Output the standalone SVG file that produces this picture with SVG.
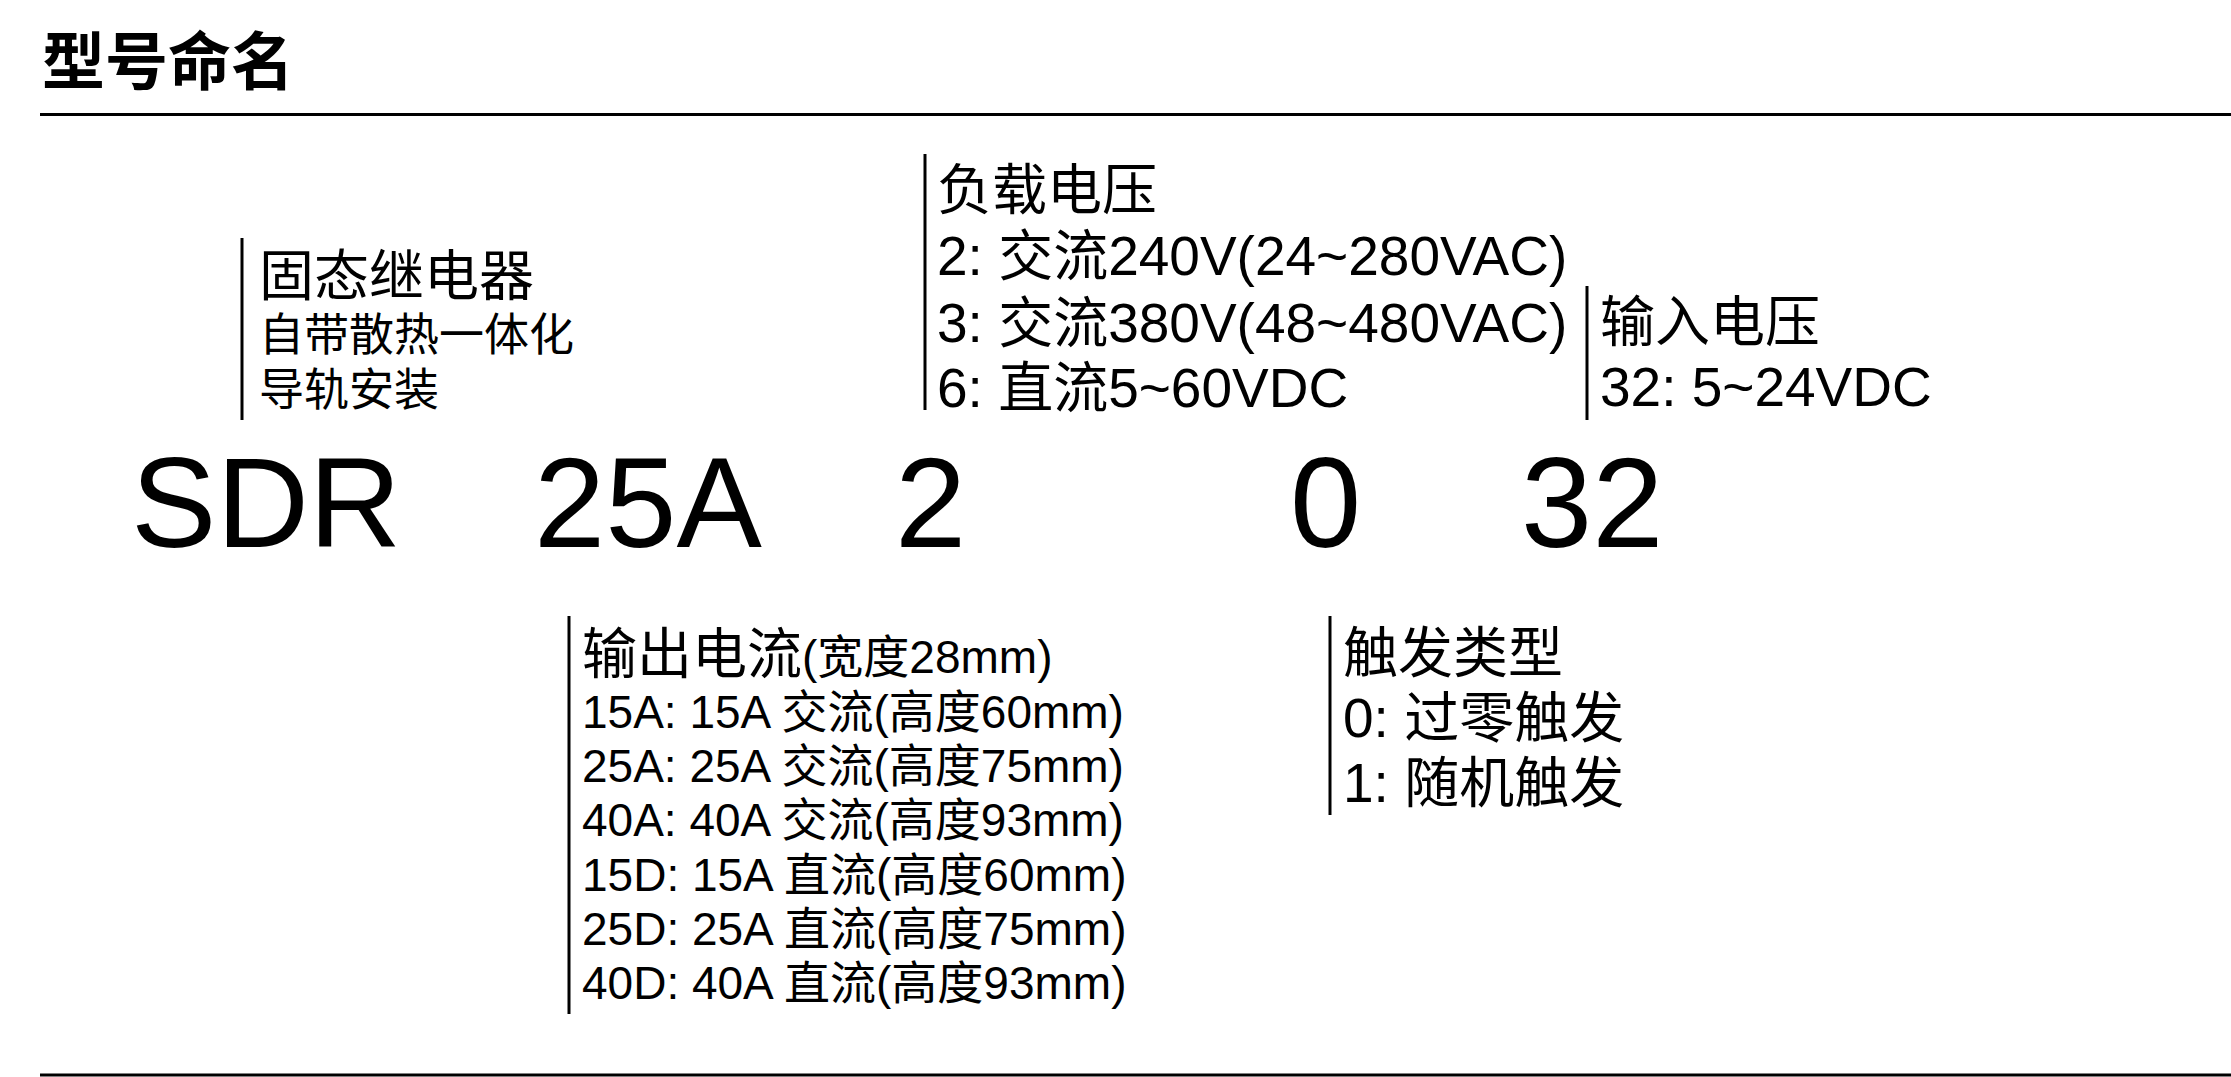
<svg xmlns="http://www.w3.org/2000/svg" width="2231" height="1077" viewBox="0 0 2231 1077">
<style>
  text { font-family: "Liberation Sans", "Noto Sans CJK SC", sans-serif; fill: #000; }
  .title { font-family: "Noto Sans CJK SC", sans-serif; font-size: 63px; font-weight: 700; }
  .h { font-size: 55px; }
  .s { font-size: 46px; }
  .s45 { font-size: 45px; }
  .big { font-size: 128px; }
  .rule { stroke: #000; stroke-width: 3; }
  .bar { stroke: #000; stroke-width: 3; }
</style>
<rect x="0" y="0" width="2231" height="1077" fill="#fff"/>
<g id="header">
  <text class="title" x="42" y="84">型号命名</text>
  <line class="rule" x1="40" y1="114.5" x2="2231" y2="114.5"/>
</g>
<g id="code">
  <text class="big" x="131" y="547">SDR</text>
  <text class="big" x="534" y="547">25A</text>
  <text class="big" x="895" y="547">2</text>
  <text class="big" x="1290" y="547">0</text>
  <text class="big" x="1521" y="547">32</text>
</g>
<g id="node-type">
  <line class="bar" x1="242" y1="238" x2="242" y2="420"/>
  <text class="h" x="259" y="295">固态继电器</text>
  <text class="s45" x="259" y="351">自带散热一体化</text>
  <text class="s45" x="259" y="406">导轨安装</text>
</g>
<g id="node-load-voltage">
  <line class="bar" x1="925" y1="154" x2="925" y2="410"/>
  <text class="h" x="937" y="209">负载电压</text>
  <text class="h" x="937" y="275">2: 交流240V(24~280VAC)</text>
  <text class="h" x="937" y="342">3: 交流380V(48~480VAC)</text>
  <text class="h" x="937" y="407">6: 直流5~60VDC</text>
</g>
<g id="node-input-voltage">
  <line class="bar" x1="1587" y1="286" x2="1587" y2="420"/>
  <text class="h" x="1600" y="341">输入电压</text>
  <text class="h" x="1600" y="406">32: 5~24VDC</text>
</g>
<g id="node-output-current">
  <line class="bar" x1="569" y1="616" x2="569" y2="1014"/>
  <text x="582" y="673"><tspan class="h">输出电流</tspan><tspan class="s">(宽度28mm)</tspan></text>
  <text class="s" x="582" y="728">15A: 15A 交流(高度60mm)</text>
  <text class="s" x="582" y="782">25A: 25A 交流(高度75mm)</text>
  <text class="s" x="582" y="836">40A: 40A 交流(高度93mm)</text>
  <text class="s" x="582" y="891">15D: 15A 直流(高度60mm)</text>
  <text class="s" x="582" y="945">25D: 25A 直流(高度75mm)</text>
  <text class="s" x="582" y="999">40D: 40A 直流(高度93mm)</text>
</g>
<g id="node-trigger">
  <line class="bar" x1="1330" y1="616" x2="1330" y2="815"/>
  <text class="h" x="1343" y="672">触发类型</text>
  <text class="h" x="1343" y="737">0: 过零触发</text>
  <text class="h" x="1343" y="802">1: 随机触发</text>
</g>
<g id="connectors"></g>
<g id="footer">
  <line class="rule" x1="40" y1="1075" x2="2231" y2="1075"/>
</g>
</svg>
